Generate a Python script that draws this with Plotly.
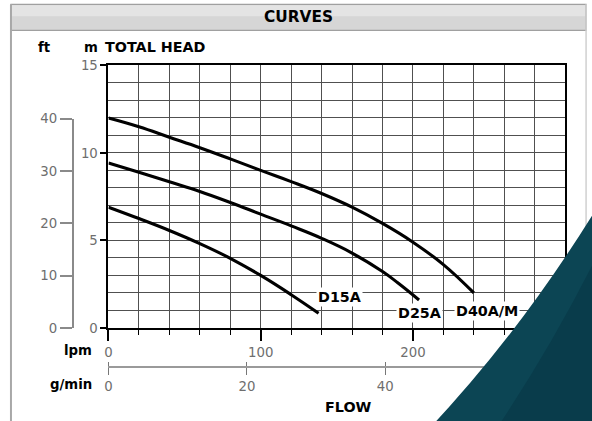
import plotly.graph_objects as go

# Figure size (slightly larger than the window: the page photo is scaled to fit)
W, H = 610, 440
SX, CX = 0.977, 1.0     # photo_x = SX * fig_x + CX
SY, CY = 0.964, 7.7     # photo_y = SY * fig_y + CY

# ---- data (flow in lpm, total head in m) ----
d40_flow = [0, 20, 40, 60, 80, 100, 120, 140, 160, 180, 200, 220, 240]
d40_head = [12.0, 11.5, 10.9, 10.3, 9.66, 9.0, 8.36, 7.68, 6.9, 5.97, 4.9, 3.62, 2.0]

d25_flow = [0, 20, 40, 60, 80, 100, 120, 140, 160, 180, 190, 204]
d25_head = [9.43, 8.9, 8.35, 7.8, 7.17, 6.5, 5.83, 5.12, 4.28, 3.22, 2.58, 1.6]

d15_flow = [0, 20, 40, 60, 80, 100, 120, 138]
d15_head = [6.9, 6.25, 5.57, 4.82, 3.98, 3.0, 1.9, 0.84]

series_names = ["D40A/M", "D25A", "D15A"]

LPM_MAX = 300
HEAD_MAX = 15
FT_MAX = 40
LITRES_PER_GAL = 4.54609  # imperial gallon

def px(x):
    """target photo pixel x -> paper x"""
    return ((x - CX) / SX) / W

def py(y):
    """target photo pixel y -> paper y"""
    return 1 - ((y - CY) / SY) / H

FONT = "DejaVu Sans"
GRAY = "#6e6e6e"
FS = 1 / SX  # font compensation

fig = go.Figure()

for name, fx, hy in [(series_names[0], d40_flow, d40_head),
                     (series_names[1], d25_flow, d25_head),
                     (series_names[2], d15_flow, d15_head)]:
    fig.add_trace(go.Scatter(x=fx, y=hy, mode="lines", name=name,
                             line=dict(color="black", width=3.1, shape="spline", smoothing=1.2),
                             showlegend=False, hoverinfo="skip"))

# dummy traces for secondary axes
fig.add_trace(go.Scatter(x=[None], y=[None], xaxis="x2", yaxis="y", showlegend=False))
fig.add_trace(go.Scatter(x=[None], y=[None], xaxis="x3", yaxis="y2", showlegend=False))

x_dom = [px(106), px(565)]
y_dom = [py(328), py(66)]
tick_font = dict(family=FONT, size=13 * FS, color=GRAY)

fig.update_layout(
    width=W, height=H, autosize=False,
    margin=dict(l=0, r=0, t=0, b=0),
    paper_bgcolor="white", plot_bgcolor="rgba(0,0,0,0)",
    font=dict(family=FONT, size=13, color=GRAY),
    xaxis=dict(domain=x_dom, range=[0, LPM_MAX], dtick=100, tick0=0,
               showgrid=True, gridcolor="#505050", gridwidth=1.3,
               showline=True, linecolor="black", linewidth=2, mirror=True,
               ticks="outside", ticklen=11, tickwidth=1.5, tickcolor="black",
               tickfont=tick_font,
               minor=dict(dtick=20, showgrid=True, gridcolor="#505050", gridwidth=1.3,
                          ticks="outside", ticklen=5, tickcolor="black", tickwidth=1.2),
               zeroline=False, fixedrange=True),
    yaxis=dict(domain=y_dom, range=[0, HEAD_MAX], dtick=5, tick0=0,
               showgrid=True, gridcolor="#505050", gridwidth=1.3,
               showline=True, linecolor="black", linewidth=2, mirror=True,
               ticks="outside", ticklen=6, tickwidth=1.5, tickcolor="black",
               tickfont=tick_font,
               minor=dict(dtick=1, showgrid=True, gridcolor="#505050", gridwidth=1.3),
               zeroline=False, fixedrange=True),
    xaxis2=dict(overlaying="x", anchor="free", position=py(367), side="bottom",
                range=[0, LPM_MAX / LITRES_PER_GAL], dtick=20, tick0=0,
                showgrid=False, zeroline=False,
                showline=True, linecolor="#9a9a9a", linewidth=1.5,
                ticks="outside", ticklen=7, tickcolor="#777", tickwidth=1.2,
                minor=dict(dtick=20, ticks="inside", ticklen=4, tickcolor="#777"),
                tickfont=tick_font, fixedrange=True),
    xaxis3=dict(domain=x_dom, range=[0, LPM_MAX], visible=False, anchor="y2"),
    yaxis2=dict(domain=[py(328), py(119)], anchor="free", position=px(70),
                range=[0, FT_MAX], dtick=10, tick0=0, side="left",
                showgrid=False, zeroline=False,
                showline=True, linecolor="#8a8a8a", linewidth=1.5,
                ticks="outside", ticklen=12, tickcolor="#8a8a8a", tickwidth=1.5,
                tickfont=tick_font, fixedrange=True),
)

shapes = []
# card frame
shapes.append(dict(type="line", xref="paper", yref="paper", x0=px(8), x1=px(8), y0=py(5), y1=py(430),
                   line=dict(color="#a8a8a8", width=2)))
shapes.append(dict(type="line", xref="paper", yref="paper", x0=px(586), x1=px(586), y0=py(5), y1=py(430),
                   line=dict(color="#d0d0d0", width=1.5)))
# header bar
shapes.append(dict(type="rect", xref="paper", yref="paper", x0=px(8), x1=px(586), y0=py(31), y1=py(5),
                   fillcolor="#d6d6d6", line=dict(color="#a0a0a0", width=1.2), layer="below"))
shapes.append(dict(type="rect", xref="paper", yref="paper", x0=px(9), x1=px(585), y0=py(17), y1=py(6),
                   fillcolor="#e4e4e4", line=dict(width=0), layer="below"))
# decorative teal corner
p0 = (px(600), py(203))
c = (px(522), py(330))
p2 = (px(427), py(430))
path = (f"M {p0[0]},{p0[1]} Q {c[0]},{c[1]} {p2[0]},{p2[1]} "
        f"L {px(605)},{py(430)} Z")
shapes.append(dict(type="path", xref="paper", yref="paper", path=path,
                   fillcolor="#0c4554", line=dict(width=0), layer="above"))
# darker overlay towards the right
p0b = (px(605), py(240))
cb = (px(556), py(340))
p2b = (px(495), py(430))
pathb = (f"M {p0b[0]},{p0b[1]} Q {cb[0]},{cb[1]} {p2b[0]},{p2b[1]} "
         f"L {px(605)},{py(430)} Z")
shapes.append(dict(type="path", xref="paper", yref="paper", path=pathb,
                   fillcolor="#04303f", opacity=0.4, line=dict(width=0), layer="above"))
fig.update_layout(shapes=shapes)

ann = []
def text(x, y, s, size=13, xanchor="center", color="black", bg=None):
    d = dict(x=px(x), y=py(y), xref="paper", yref="paper", text=s, showarrow=False,
             xanchor=xanchor, yanchor="middle",
             font=dict(family=FONT, size=size * FS, color=color))
    if bg:
        d.update(bgcolor=bg, borderpad=1)
    ann.append(d)

text(297, 18, "<b>CURVES</b>", size=15)
text(50, 48, "<b>ft</b>", size=13, xanchor="right")
text(79, 48, "<b>m</b>", size=13, xanchor="left")
text(100, 48, "<b>TOTAL HEAD</b>", size=14, xanchor="left")
text(91, 351, "<b>lpm</b>", size=13, xanchor="right")
text(91, 384, "<b>g/min</b>", size=13, xanchor="right")
text(347, 407, "<b>FLOW</b>", size=14)
text(338, 297, "<b>D15A</b>", size=14, bg="white")
text(419, 313, "<b>D25A</b>", size=14, bg="white")
text(486, 311, "<b>D40A/M</b>", size=14, bg="white")
fig.update_layout(annotations=ann)

fig.write_html("out.html", config={"displayModeBar": False},
               post_script="document.body.style.margin='0px';")
